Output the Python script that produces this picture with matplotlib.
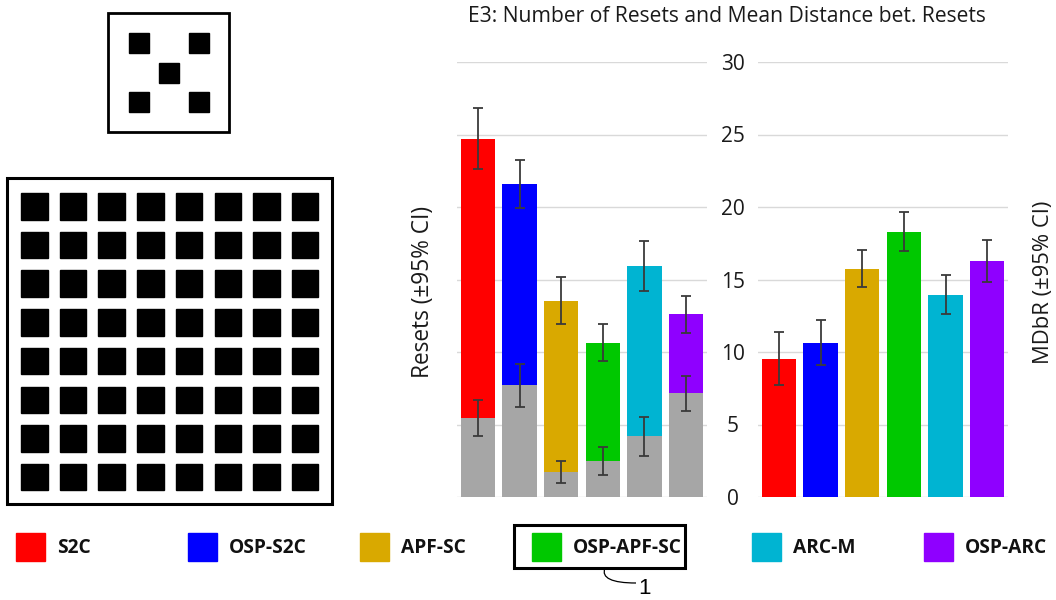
import matplotlib
matplotlib.use("Agg")
import matplotlib.pyplot as plt
from matplotlib.patches import Rectangle, PathPatch
from matplotlib.path import Path
import numpy as np

plt.rcParams['font.family'] = ['Open Sans', 'DejaVu Sans']

# ---------------- data ----------------
methods = ["S2C", "OSP-S2C", "APF-SC", "OSP-APF-SC", "ARC-M", "OSP-ARC"]
colors = ["#ff0000", "#0000ff", "#d9a900", "#00c800", "#00b4d2", "#8f00ff"]
gray = "#a6a6a6"

resets_total = [24.7, 21.6, 13.55, 10.65, 15.95, 12.6]
resets_total_ci = [2.1, 1.67, 1.65, 1.3, 1.72, 1.27]
resets_gray = [5.45, 7.7, 1.75, 2.5, 4.18, 7.15]
resets_gray_ci = [1.25, 1.5, 0.75, 0.97, 1.36, 1.22]

mdbr = [9.55, 10.65, 15.75, 18.3, 13.95, 16.25]
mdbr_ci = [1.8, 1.55, 1.28, 1.33, 1.35, 1.45]

yticks = [0, 5, 10, 15, 20, 25, 30]
title = "E3: Number of Resets and Mean Distance bet. Resets"

W, H = 1056, 600
fig = plt.figure(figsize=(W / 100, H / 100), dpi=100)


def fx(px):
    return px / W


def fy(py):
    return 1 - py / H


y0, y30 = 497, 62
axL = fig.add_axes([fx(457), fy(y0), fx(250), (y0 - y30) / H])
axR = fig.add_axes([fx(758), fy(y0), fx(250), (y0 - y30) / H])

x = np.arange(len(methods))
bw = 0.83
err_kw = dict(ecolor="#3a3a3a", elinewidth=1.3, capsize=3.4, capthick=1.3)

# Left group: resets (colored total with gray lower portion)
axL.bar(x, resets_total, width=bw, color=colors, zorder=2)
axL.bar(x, resets_gray, width=bw, color=gray, zorder=3)
axL.errorbar(x, resets_total, yerr=resets_total_ci, fmt="none", zorder=4, **err_kw)
axL.errorbar(x, resets_gray, yerr=resets_gray_ci, fmt="none", zorder=4, **err_kw)

# Right group: MDbR
axR.bar(x, mdbr, width=bw, color=colors, zorder=2)
axR.errorbar(x, mdbr, yerr=mdbr_ci, fmt="none", zorder=4, **err_kw)

for ax in (axL, axR):
    ax.set_ylim(0, 30)
    ax.set_xlim(-0.5, 5.5)
    ax.set_yticks(yticks)
    ax.yaxis.grid(True, color="#d9d9d9", linewidth=1.0, zorder=0)
    ax.set_axisbelow(True)
    for s in ax.spines.values():
        s.set_visible(False)
    ax.set_xticks([])
    ax.patch.set_alpha(0)

axL.tick_params(axis="y", length=0, labelleft=False)
axR.tick_params(axis="y", length=0, labelleft=True, pad=18, labelsize=15,
                labelcolor="#1a1a1a")
for lbl in axR.get_yticklabels():
    lbl.set_ha("center")

fig.text(fx(423), fy(292), "Resets (±95% CI)", rotation=90, ha="center",
         va="center", fontsize=16.3, color="#1a1a1a")
fig.text(fx(1043), fy(282), "MDbR (±95% CI)", rotation=90, ha="center",
         va="center", fontsize=15.8, color="#1a1a1a")
fig.text(fx(727), fy(17), title, ha="center", va="center", fontsize=15.2,
         color="#1a1a1a")

# ---------------- overlay for diagrams & legend ----------------
ov = fig.add_axes([0, 0, 1, 1])
ov.set_xlim(0, W)
ov.set_ylim(H, 0)
ov.axis("off")
ov.patch.set_alpha(0)

# small box with 5 squares
ov.add_patch(Rectangle((108, 13), 121, 119, fill=False, lw=2.0, ec="black"))
small_centers = [(139, 42.5), (198.5, 42.5), (169, 72.5), (139, 102), (198.5, 102)]
for cx, cy in small_centers:
    ov.add_patch(Rectangle((cx - 10, cy - 10), 20, 20, color="black"))

# large box with 8x8 grid
ov.add_patch(Rectangle((7, 178), 325, 326, fill=False, lw=2.2, ec="black"))
n = 8
pitch = 38.7
sq = 26.5
for i in range(n):
    for j in range(n):
        ov.add_patch(Rectangle((21 + i * pitch, 193 + j * pitch), sq, sq,
                               color="black"))

# legend
sq_x = [16, 188, 360, 532, 752, 924]
for xs, c, m in zip(sq_x, colors, methods):
    ov.add_patch(Rectangle((xs, 533), 29, 28, color=c))
    ov.text(xs + 41, 548, m, ha="left", va="center", fontsize=13.8,
            fontweight="bold", color="#111111")

# highlight box and callout
ov.add_patch(Rectangle((514, 525), 171, 43, fill=False, lw=2.2, ec="black"))
verts = [(605, 568), (601, 578), (612, 583), (636, 583)]
ov.add_patch(PathPatch(Path(verts, [Path.MOVETO, Path.CURVE4, Path.CURVE4, Path.CURVE4]),
                       fill=False, lw=0.9, ec="black"))
ov.text(644, 589, "1", ha="center", va="center", fontsize=16, color="black",
        family=["Liberation Sans", "DejaVu Sans"])

fig.savefig("out.png", dpi=100)
